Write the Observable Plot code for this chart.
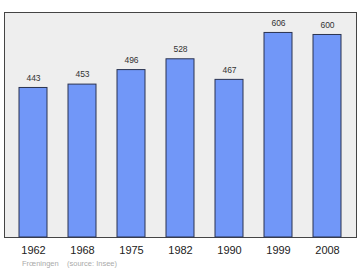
<!DOCTYPE html>
<html><head><meta charset="utf-8">
<script src="https://cdn.jsdelivr.net/npm/d3@7"></script>
<script src="https://cdn.jsdelivr.net/npm/@observablehq/plot@0.6"></script>
<style>
body{margin:0;background:#fff;font-family:"Liberation Sans",Arial,sans-serif;}
#cap{font-size:7.5px;color:#aaa;margin:0 0 0 22px;white-space:pre;}
</style>
</head><body>
<div id="chart"></div>
<div id="cap">Frœningen    (source: Insee)</div>
<script>
const years = ["1962","1968","1975","1982","1990","1999","2008"];
const population = [443,453,496,528,467,606,600];
const data = years.map((y,i)=>({year:y, pop:population[i]}));
const chart = Plot.plot({
  width:360, height:259,
  marginTop:12, marginBottom:22, marginLeft:4, marginRight:4,
  style:{fontFamily:"Liberation Sans, Arial, sans-serif", background:"#fff"},
  x:{domain:years, paddingInner:0.42, paddingOuter:0.29, label:null},
  y:{domain:[0, 606*1.1], axis:null},
  marks:[
    Plot.frame({fill:"#eeeeee", stroke:"#444", strokeWidth:1}),
    Plot.barY(data,{x:"year", y:"pop", fill:"#7197f8", stroke:"#2a3350", strokeWidth:1}),
    Plot.text(data,{x:"year", y:"pop", text:d=>String(d.pop), dy:-10, fontSize:8.5, fill:"#333"}),
    Plot.axisX({tickSize:0, tickPadding:9, fontSize:11, fill:"#222"})
  ]
});
document.getElementById("chart").append(chart);
</script>
</body></html>
